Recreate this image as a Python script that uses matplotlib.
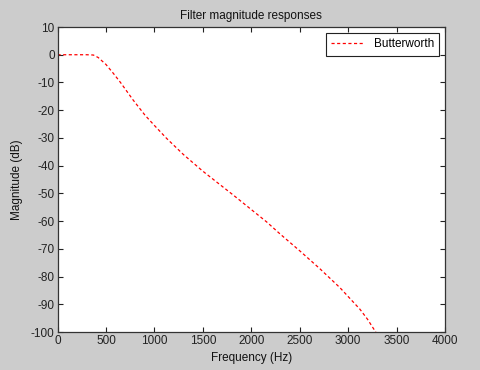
import matplotlib
matplotlib.use("Agg")
import matplotlib.pyplot as plt

freq_hz = [0, 300, 370, 420, 500, 576, 650, 782, 903, 1000, 1127, 1300, 1500,
           1814, 2159, 2296, 2503, 2709, 2915, 3122, 3200, 3277, 3310]
mag_db = [0, 0, -0.1, -1.0, -3.5, -6.7, -10.0, -16.4, -21.8, -25.5, -30.2, -36.0,
          -42.0, -50.6, -60.3, -64.6, -70.8, -77.2, -84.0, -91.8, -95.4, -99.6, -101.5]
xticks = [0, 500, 1000, 1500, 2000, 2500, 3000, 3500, 4000]
yticks = [10, 0, -10, -20, -30, -40, -50, -60, -70, -80, -90, -100]

plt.rcParams['font.family'] = ['Liberation Sans', 'DejaVu Sans']
plt.rcParams['axes.unicode_minus'] = False
fig = plt.figure(figsize=(4.8, 3.7), dpi=100, facecolor='#cccccc')
ax = fig.add_axes([0.1198, 0.1027, 0.8073, 0.8243])
ax.set_facecolor('white')
ax.plot(freq_hz, mag_db, color='red', linestyle=(0, (2.5, 2)), linewidth=0.9,
        label='Butterworth')
ax.set_xlim(0, 4000)
ax.set_ylim(-100, 10)
ax.set_xticks(xticks)
ax.set_yticks(yticks)
ax.tick_params(direction='in', length=3.5, width=0.8, top=True, right=True,
               labelsize=8.5, colors='#222222', pad=2)
for s in ax.spines.values():
    s.set_color('#333333')
    s.set_linewidth(0.9)
ax.set_title('Filter magnitude responses', fontsize=8.5, pad=6, color='#111111')
ax.set_xlabel('Frequency (Hz)', fontsize=8.5, labelpad=4, color='#111111')
ax.set_ylabel('Magnitude (dB)', fontsize=8.5, labelpad=6, color='#111111')
leg = ax.legend(loc='upper right', fontsize=8.5, fancybox=False, framealpha=1,
                edgecolor='#222222', handlelength=2.8, borderpad=0.45,
                borderaxespad=0.5)
leg.get_frame().set_linewidth(0.8)
fig.savefig('out.png', dpi=100, facecolor=fig.get_facecolor())
